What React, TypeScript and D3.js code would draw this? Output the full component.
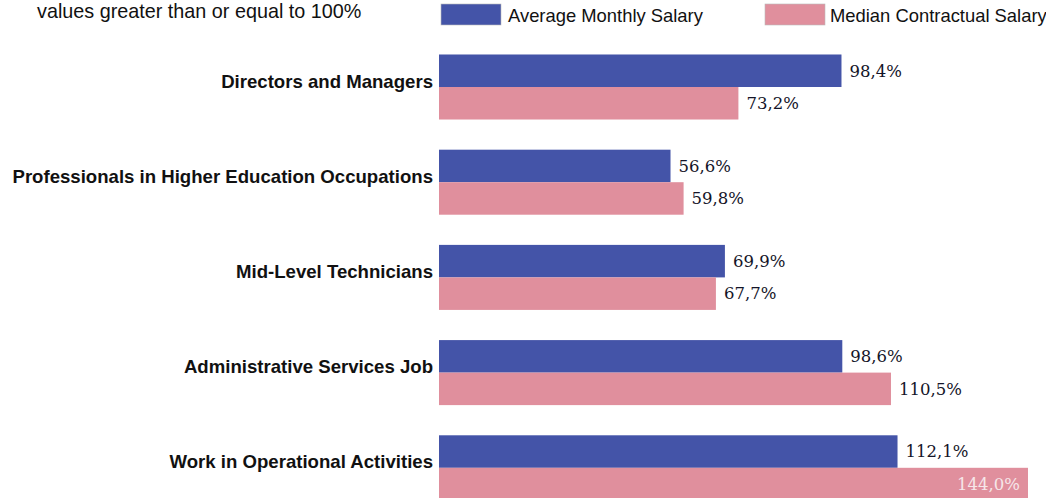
import React from "react";
import * as d3 from "d3";

const categories = [
  "Directors and Managers",
  "Professionals in Higher Education Occupations",
  "Mid-Level Technicians",
  "Administrative Services Job",
  "Work in Operational Activities",
];
const averageMonthly = [98.4, 56.6, 69.9, 98.6, 112.1];
const medianContractual = [73.2, 59.8, 67.7, 110.5, 144.0];
const seriesNames = ["Average Monthly Salary", "Median Contractual Salary"];
const seriesColors = ["#4454a8", "#e08f9d"];
const titleText = "values greater than or equal to 100%";

const W = 1046;
const H = 498;

export default function App() {
  const x = d3.scaleLinear().domain([0, 144]).range([439, 1028]);
  const y = d3
    .scaleBand<string>()
    .domain(categories)
    .range([39.4, 515.4])
    .paddingInner(0.317)
    .paddingOuter(0.1585);
  const bw = y.bandwidth();
  const barH = bw / 2;
  const fmt = (v: number) => v.toFixed(1).replace(".", ",") + "%";
  const series = [averageMonthly, medianContractual];

  return (
    <svg
      width={W}
      height={H}
      style={{ position: "absolute", left: 0, top: 0, background: "#fff" }}
    >
      <text
        x={37}
        y={17.5}
        fontFamily="Liberation Sans, Arial, sans-serif"
        fontSize={19.8}
        fill="#111"
      >
        {titleText}
      </text>
      {seriesNames.map((name, i) => {
        const lx = i === 0 ? 441 : 765;
        return (
          <g key={name}>
            <rect
              x={lx}
              y={4}
              width={60}
              height={21}
              fill={seriesColors[i]}
              stroke="#bbb"
              strokeWidth={0.6}
            />
            <text
              x={lx + (i === 0 ? 67 : 65)}
              y={22}
              fontFamily="Liberation Sans, Arial, sans-serif"
              fontSize={18.4}
              fill="#111"
            >
              {name}
            </text>
          </g>
        );
      })}
      {categories.map((c, ci) => {
        const y0 = y(c)!;
        return (
          <g key={c}>
            <text
              x={433}
              y={y0 + bw / 2 + 0.5}
              textAnchor="end"
              fontFamily="Liberation Sans, Arial, sans-serif"
              fontWeight="bold"
              fontSize={18.6}
              fill="#111"
            >
              {c}
            </text>
            {series.map((vals, si) => {
              const v = vals[ci];
              const by = y0 + si * barH;
              const xe = x(v);
              const inside = xe + 70 > W;
              return (
                <g key={si}>
                  <rect
                    x={x(0)}
                    y={by}
                    width={xe - x(0)}
                    height={barH}
                    fill={seriesColors[si]}
                  />
                  <text
                    x={inside ? xe - 8 : xe + 8}
                    y={by + barH / 2}
                    dy="0.35em"
                    textAnchor={inside ? "end" : "start"}
                    fontFamily="DejaVu Serif, serif"
                    fontSize={16.5}
                    fill={inside ? "#f6e6e9" : "#141428"}
                  >
                    {fmt(v)}
                  </text>
                </g>
              );
            })}
          </g>
        );
      })}
    </svg>
  );
}
